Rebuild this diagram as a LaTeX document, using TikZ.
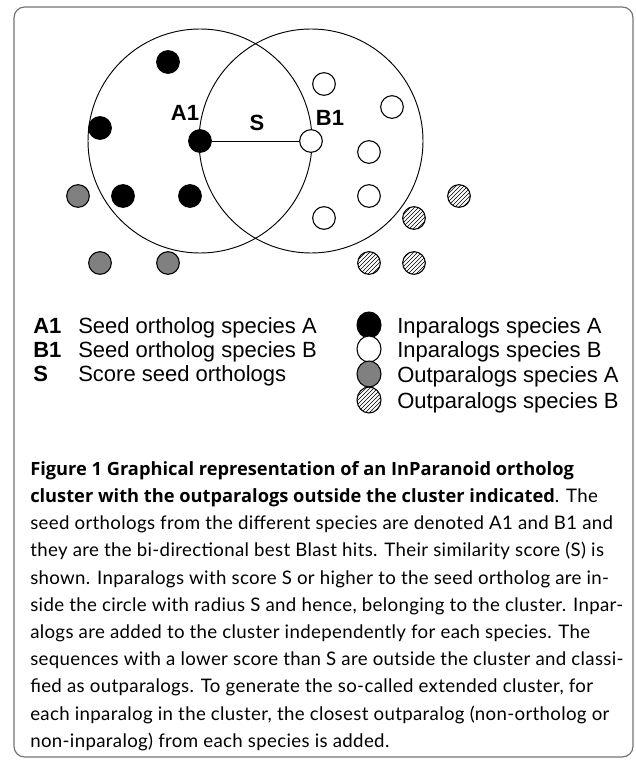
\documentclass[tikz,border=0pt]{standalone}
\usepackage{fontspec}
\newfontfamily\arialfont{Liberation Sans}
\newfontfamily\captionfont{Lato}[LetterSpace=1.8]
\newfontfamily\captionbold{Open Sans}
\usetikzlibrary{patterns,shapes.geometric,positioning}

\begin{document}
\begin{tikzpicture}[x=0.75pt, y=-0.75pt, font=\arialfont]
  \tikzstyle{dot}=[circle, draw=black, line width=0.8pt, minimum size=17pt, inner sep=0pt]
  \tikzstyle{inA}=[dot, fill=black]
  \tikzstyle{inB}=[dot, fill=white]
  \tikzstyle{outA}=[dot, fill=black!50]
  \tikzstyle{outB}=[dot, pattern=north east lines]
  \tikzstyle{keydot}=[ellipse, draw=black, line width=0.8pt, minimum width=18pt,
                      minimum height=19.5pt, inner sep=0pt]
  \tikzstyle{lbl}=[font=\arialfont\bfseries\fontsize{16.5}{18}\selectfont, inner sep=0pt, anchor=base]
  \tikzstyle{lgd}=[font=\arialfont\fontsize{16.5}{18}\selectfont, inner sep=0pt, anchor=base west]

  \useasboundingbox (0,0) rectangle (635,762);
  \draw[black!55, line width=0.9pt, rounded corners=8pt] (14,7) rectangle (633,757);

  % ===== the two clusters, radius S round each seed ortholog =====
  \coordinate (cA) at (200,141);
  \coordinate (cB) at (311,141);
  \draw[line width=0.7pt] (cA) circle[radius=112];
  \draw[line width=0.7pt] (cB) circle[radius=112];

  % inparalogs species A
  \node[inA] (a1) at (cA) {};
  \node[inA] (a2) at (168,62) {};
  \node[inA] (a3) at (100,128) {};
  \node[inA] (a4) at (123,196) {};
  \node[inA] (a5) at (190,196) {};
  % inparalogs species B
  \node[inB] (b1) at (cB) {};
  \node[inB] (b2) at (324,84) {};
  \node[inB] (b3) at (392,107) {};
  \node[inB] (b4) at (369,152) {};
  \node[inB] (b5) at (369,196) {};
  \node[inB] (b6) at (324,218) {};
  % outparalogs
  \node[outA] (oa1) at (78,196) {};
  \node[outA] (oa2) at (100,263) {};
  \node[outA] (oa3) at (168,263) {};
  \node[outB] (ob1) at (459,196) {};
  \node[outB] (ob2) at (414,218) {};
  \node[outB] (ob3) at (369,263) {};
  \node[outB] (ob4) at (414,263) {};

  \draw[line width=0.7pt] (a1) -- (b1);
  \node[lbl] (la1) at (185,121) {A1};
  \node[lbl] (ls) at (257,131) {S};
  \node[lbl] (lb1) at (330,126) {B1};

  % ===== legend =====
  \node[lgd, font=\arialfont\bfseries\fontsize{16.5}{18}\selectfont] (k1) at (33,333) {A1};
  \node[lgd, font=\arialfont\bfseries\fontsize{16.5}{18}\selectfont] (k2) at (33,357) {B1};
  \node[lgd, font=\arialfont\bfseries\fontsize{16.5}{18}\selectfont] (k3) at (33,381) {S};
  \node[lgd] (t1) at (78,333) {Seed ortholog species A};
  \node[lgd] (t2) at (78,357) {Seed ortholog species B};
  \node[lgd] (t3) at (78,381) {Score seed orthologs};

  \node[keydot, fill=black] (d1) at (369,325) {};
  \node[keydot, fill=white] (d2) at (369,349) {};
  \node[keydot, fill=black!50] (d3) at (369,374) {};
  \node[keydot, pattern=north east lines] (d4) at (369,400) {};
  \node[lgd] (u1) at (397,333) {Inparalogs species A};
  \node[lgd] (u2) at (397,357) {Inparalogs species B};
  \node[lgd] (u3) at (397,382) {Outparalogs species A};
  \node[lgd] (u4) at (397,408) {Outparalogs species B};

  % ===== caption =====
  \node[anchor=north west, inner sep=0pt, align=left,
        font=\captionfont\fontsize{14}{20.4}\selectfont] (cap) at (30,461)
  {{\captionbold\bfseries\fontsize{13.7}{20.4}\selectfont Figure 1 Graphical representation of an InParanoid ortholog}\\
   {\captionbold\bfseries\fontsize{13.7}{20.4}\selectfont cluster with the outparalogs outside the cluster indicated}. The\\
   seed orthologs from the different species are denoted A1 and B1 and\\
   they are the bi-directional best Blast hits. Their similarity score (S) is\\
   shown. Inparalogs with score S or higher to the seed ortholog are in-\\
   side the circle with radius S and hence, belonging to the cluster. Inpar-\\
   alogs are added to the cluster independently for each species. The\\
   sequences with a lower score than S are outside the cluster and classi-\\
   fied as outparalogs. To generate the so-called extended cluster, for\\
   each inparalog in the cluster, the closest outparalog (non-ortholog or\\
   non-inparalog) from each species is added.};
\end{tikzpicture}
\end{document}
